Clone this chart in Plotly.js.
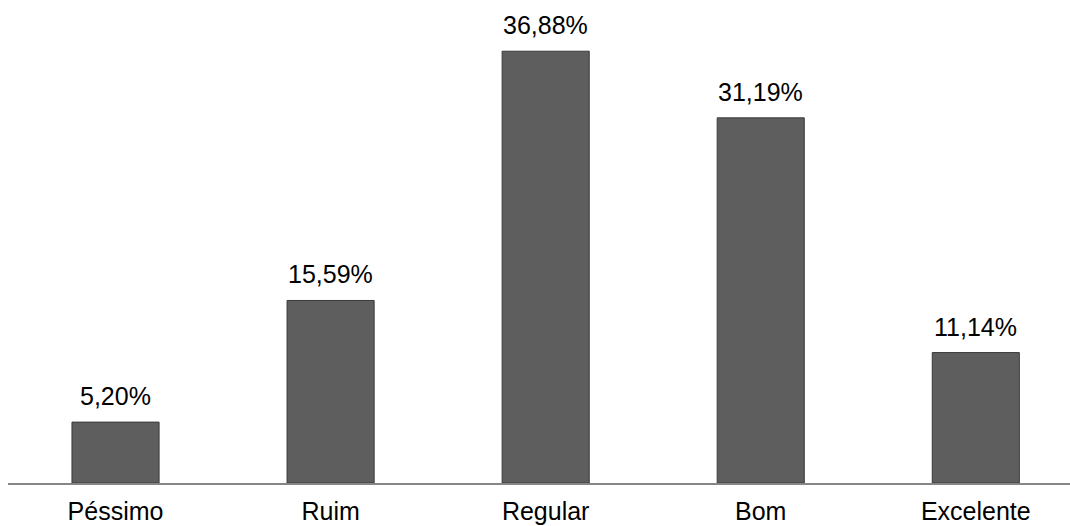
<!DOCTYPE html>
<html><head><meta charset="utf-8">
<script src="https://cdn.plot.ly/plotly-3.0.1.min.js"></script>
<style>body{margin:0;background:#fff}#c{width:1070px;height:526px}</style>
</head><body><div id="c"></div>
<script>
const categories = ["Péssimo", "Ruim", "Regular", "Bom", "Excelente"];
const values = [5.20, 15.59, 36.88, 31.19, 11.14];
const labels = ["5,20%", "15,59%", "36,88%", "31,19%", "11,14%"];

const trace = {
  type: "bar",
  x: categories,
  y: values,
  width: 0.405,
  marker: {color: "#5e5e5e", line: {color: "#3a3a3a", width: 1}},
  hoverinfo: "none"
};
const annotations = categories.map((c, i) => ({
  x: c, y: values[i], xref: "x", yref: "y",
  text: labels[i], showarrow: false, yanchor: "bottom", yshift: 10,
  font: {family: "Liberation Sans, Arial, sans-serif", size: 25, color: "#000"}
}));
Plotly.newPlot("c", [trace], {
  width: 1070, height: 526,
  margin: {l: 8, r: 0, t: 10, b: 43},
  paper_bgcolor: "#fff", plot_bgcolor: "#fff",
  showlegend: false,
  xaxis: {range: [-0.5, 4.438], showline: true, linecolor: "#868686", linewidth: 2,
    ticks: "", showgrid: false, zeroline: false, fixedrange: true, ticklabelstandoff: 5,
    tickfont: {family: "Liberation Sans, Arial, sans-serif", size: 25, color: "#000"}},
  yaxis: {range: [0, 40.4], visible: false, showgrid: false, zeroline: false},
  annotations: annotations
}, {staticPlot: true});
</script></body></html>
